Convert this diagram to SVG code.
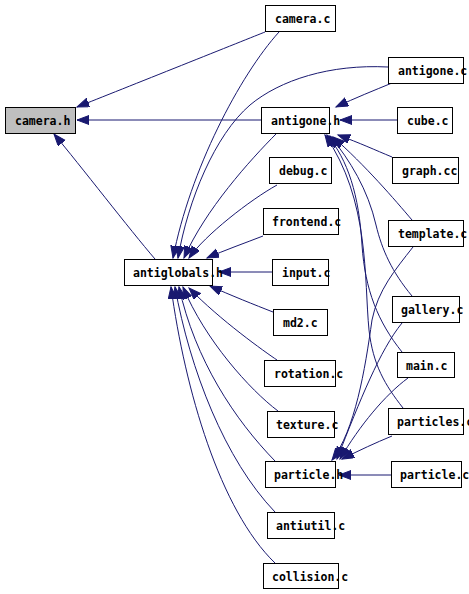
<svg xmlns="http://www.w3.org/2000/svg" width="469" height="594" viewBox="0 0 469 594">
<style>
.n rect{fill:#ffffff;stroke:#000000;stroke-width:1}
.n text{font-family:"DejaVu Sans Mono","Liberation Mono",monospace;font-size:11.5px;font-weight:bold;fill:#000000}
#edges path{fill:none;stroke:#191970;stroke-width:1}
</style>
<defs>
<marker id="a" markerWidth="14" markerHeight="11" refX="12" refY="4.5" orient="auto" markerUnits="userSpaceOnUse">
<path d="M0,0 L12,4.5 L0,9 z" fill="#191970" stroke="#191970" stroke-width="1"/>
</marker>
</defs>
<rect x="0" y="0" width="469" height="594" fill="#ffffff"/>
<g id="edges" marker-end="url(#a)">
<path d="M265,32 C250,38 120,90 77,107"/>
<path d="M261,120 L77,120"/>
<path d="M155,259 C130,230 80,165 54,134"/>
<path d="M279,32 C240,75 190,170 173,258"/>
<path d="M388,67 C330,64 280,80 250,105 C215,135 188,200 178,258"/>
<path d="M277,133 C250,160 205,210 184,258"/>
<path d="M277,185 C250,200 205,235 189,258"/>
<path d="M263,236 C245,243 225,250 207,258"/>
<path d="M272,272 L219,272"/>
<path d="M273,312 C255,305 230,295 210,286"/>
<path d="M277,360 C265,352 220,320 189,288"/>
<path d="M278,411 C250,390 205,340 183,287"/>
<path d="M275,461 C235,420 195,360 179,287"/>
<path d="M275,512 C225,460 190,370 175,287"/>
<path d="M275,563 C220,510 185,390 171,287"/>
<path d="M392,83 C375,90 355,98 336,107"/>
<path d="M397,120 L340,120"/>
<path d="M392,157 C375,150 360,143 338,135"/>
<path d="M412,220 C395,200 365,165 333,137"/>
<path d="M412,296 C392,272 382,250 376,225 C368,190 350,160 330,136"/>
<path d="M402,352 C378,322 365,290 362,245 C359,195 348,160 327,135"/>
<path d="M403,408 C385,385 373,365 369,330 C364,280 370,200 325,135"/>
<path d="M413,247 C395,270 378,290 372,320 C365,370 355,430 332,460"/>
<path d="M402,323 C380,350 360,400 337,459"/>
<path d="M408,378 C385,395 360,425 340,459"/>
<path d="M392,436 C375,443 360,450 342,459"/>
<path d="M391,475 L339,475"/>
</g>
<g id="camera_h" class="n"><rect x="5.5" y="107.5" width="70" height="26" style="fill:#bfbfbf"/><text x="15" y="125">camera.h</text></g>
<g id="camera_c" class="n"><rect x="265.5" y="5.5" width="70" height="26"/><text x="275" y="23">camera.c</text></g>
<g id="antigone_c" class="n"><rect x="388.5" y="57.5" width="75" height="26"/><text x="398" y="75">antigone.c</text></g>
<g id="antigone_h" class="n"><rect x="261.5" y="107.5" width="68" height="26"/><text x="271" y="125">antigone.h</text></g>
<g id="cube_c" class="n"><rect x="397.5" y="107.5" width="55" height="26"/><text x="407" y="125">cube.c</text></g>
<g id="debug_c" class="n"><rect x="269.5" y="157.5" width="62" height="26"/><text x="279" y="175">debug.c</text></g>
<g id="graph_cc" class="n"><rect x="392.5" y="157.5" width="66" height="26"/><text x="402" y="175">graph.cc</text></g>
<g id="frontend_c" class="n"><rect x="263.5" y="208.5" width="75" height="26"/><text x="272" y="226">frontend.c</text></g>
<g id="antiglobals_h" class="n"><rect x="124.5" y="259.5" width="88" height="26"/><text x="133" y="277">antiglobals.h</text></g>
<g id="input_c" class="n"><rect x="272.5" y="259.5" width="56" height="26"/><text x="282" y="277">input.c</text></g>
<g id="md2_c" class="n"><rect x="273.5" y="309.5" width="54" height="26"/><text x="283" y="327">md2.c</text></g>
<g id="template_c" class="n"><rect x="388.5" y="220.5" width="75" height="26"/><text x="398" y="238">template.c</text></g>
<g id="gallery_c" class="n"><rect x="392.5" y="296.5" width="67" height="26"/><text x="401" y="314">gallery.c</text></g>
<g id="main_c" class="n"><rect x="397.5" y="352.5" width="57" height="25"/><text x="406" y="370">main.c</text></g>
<g id="rotation_c" class="n"><rect x="264.5" y="360.5" width="71" height="26"/><text x="274" y="378">rotation.c</text></g>
<g id="texture_c" class="n"><rect x="267.5" y="411.5" width="67" height="26"/><text x="276" y="429">texture.c</text></g>
<g id="particles_c" class="n"><rect x="388.5" y="408.5" width="75" height="26"/><text x="397" y="426">particles.c</text></g>
<g id="particle_h" class="n"><rect x="265.5" y="461.5" width="70" height="26"/><text x="274" y="479">particle.h</text></g>
<g id="particle_c" class="n"><rect x="391.5" y="461.5" width="70" height="26"/><text x="400" y="479">particle.c</text></g>
<g id="antiutil_c" class="n"><rect x="267.5" y="512.5" width="67" height="26"/><text x="276" y="530">antiutil.c</text></g>
<g id="collision_c" class="n"><rect x="263.5" y="563.5" width="75" height="25"/><text x="272" y="581">collision.c</text></g>
</svg>
